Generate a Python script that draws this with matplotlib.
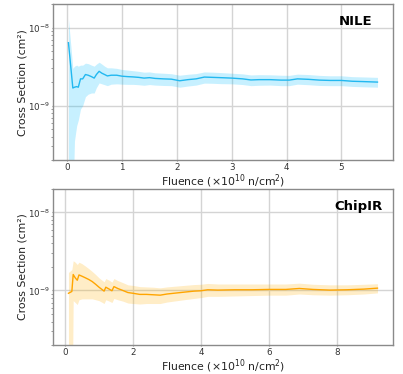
import matplotlib
matplotlib.use("Agg")
import matplotlib.pyplot as plt
import numpy as np

# ---------------- data (values in units of 1e-9 cm^2) ----------------
nile_x = [0.02, 0.10, 0.13, 0.17, 0.20, 0.24, 0.28, 0.33, 0.38, 0.44, 0.49, 0.53,
          0.58, 0.63, 0.68, 0.73, 0.80, 0.90, 1.00, 1.10, 1.20, 1.30, 1.40, 1.50,
          1.60, 1.75, 1.90, 2.05, 2.20, 2.35, 2.50, 2.65, 2.80, 3.00, 3.20, 3.35,
          3.50, 3.70, 3.90, 4.05, 4.20, 4.40, 4.60, 4.80, 5.00, 5.20, 5.40, 5.66]
nile_val = [6.4, 1.68, 1.72, 1.75, 1.72, 2.2, 2.2, 2.5, 2.45, 2.35, 2.25, 2.5,
            2.75, 2.6, 2.5, 2.4, 2.45, 2.45, 2.38, 2.35, 2.33, 2.3, 2.25, 2.28,
            2.23, 2.2, 2.18, 2.08, 2.15, 2.2, 2.32, 2.3, 2.28, 2.25, 2.2, 2.13,
            2.15, 2.15, 2.12, 2.12, 2.2, 2.17, 2.12, 2.1, 2.1, 2.05, 2.03, 2.0]
nile_up = [13.0, 3.0, 3.2, 3.3, 3.2, 3.3, 3.3, 3.5, 3.45, 3.3, 3.2, 3.4,
           3.6, 3.4, 3.2, 3.05, 3.05, 3.0, 2.9, 2.85, 2.8, 2.75, 2.68, 2.7,
           2.63, 2.6, 2.56, 2.45, 2.52, 2.57, 2.7, 2.68, 2.65, 2.6, 2.55, 2.47,
           2.49, 2.48, 2.45, 2.44, 2.53, 2.5, 2.44, 2.41, 2.41, 2.35, 2.33, 2.3]
nile_lo = [0.01, 0.05, 0.35, 0.55, 0.65, 0.9, 1.0, 1.3, 1.4, 1.45, 1.45, 1.7,
           1.95, 1.9, 1.85, 1.8, 1.88, 1.9, 1.88, 1.87, 1.87, 1.85, 1.82, 1.86,
           1.83, 1.81, 1.8, 1.72, 1.78, 1.83, 1.94, 1.93, 1.91, 1.9, 1.86, 1.8,
           1.82, 1.83, 1.8, 1.8, 1.88, 1.85, 1.81, 1.8, 1.8, 1.76, 1.74, 1.72]

chip_x = [0.10, 0.20, 0.24, 0.30, 0.36, 0.41, 0.50, 0.60, 0.70, 0.80, 0.90, 1.00,
          1.10, 1.15, 1.20, 1.30, 1.38, 1.44, 1.55, 1.70, 1.85, 2.00, 2.20, 2.40,
          2.60, 2.80, 3.00, 3.20, 3.40, 3.60, 3.80, 4.00, 4.20, 4.50, 5.00, 5.50,
          6.00, 6.50, 6.90, 7.30, 7.80, 8.30, 8.80, 9.20]
chip_val = [0.92, 0.97, 1.60, 1.45, 1.35, 1.58, 1.52, 1.45, 1.38, 1.30, 1.20, 1.10,
            1.02, 0.98, 1.10, 1.04, 0.99, 1.12, 1.06, 1.00, 0.94, 0.92, 0.89, 0.89,
            0.88, 0.87, 0.90, 0.92, 0.94, 0.96, 0.98, 0.99, 1.02, 1.01, 1.02, 1.02,
            1.03, 1.03, 1.06, 1.03, 1.01, 1.02, 1.04, 1.07]
chip_up = [1.7, 1.85, 2.4, 2.3, 2.15, 2.3, 2.2, 2.05, 1.9, 1.75, 1.6, 1.45,
           1.34, 1.29, 1.42, 1.35, 1.28, 1.42, 1.34, 1.26, 1.18, 1.16, 1.12, 1.11,
           1.10, 1.08, 1.11, 1.13, 1.15, 1.17, 1.19, 1.20, 1.23, 1.21, 1.21, 1.21,
           1.21, 1.21, 1.24, 1.20, 1.18, 1.18, 1.20, 1.22]
chip_lo = [0.01, 0.01, 0.74, 0.70, 0.66, 0.76, 0.78, 0.78, 0.78, 0.78, 0.76, 0.74,
           0.70, 0.68, 0.76, 0.73, 0.70, 0.79, 0.76, 0.73, 0.69, 0.68, 0.67, 0.68,
           0.68, 0.68, 0.71, 0.73, 0.75, 0.77, 0.79, 0.81, 0.84, 0.84, 0.85, 0.86,
           0.87, 0.87, 0.90, 0.88, 0.87, 0.88, 0.90, 0.93]

panels = [
    dict(name="NILE", x=nile_x, val=nile_val, up=nile_up, lo=nile_lo,
         line="#22b8f0", fill="#00bfff", xticks=[0, 1, 2, 3, 4, 5],
         rect=[0.1315, 0.572, 0.8435, 0.417], tx=0.94),
    dict(name="ChipIR", x=chip_x, val=chip_val, up=chip_up, lo=chip_lo,
         line="#ffa500", fill="#ffb000", xticks=[0, 2, 4, 6, 8],
         rect=[0.1315, 0.0775, 0.8435, 0.4175], tx=0.97),
]

SCALE = 1e-9

fig = plt.figure(figsize=(4.03, 3.74), dpi=100)
for p in panels:
    ax = fig.add_axes(p["rect"])
    x = np.array(p["x"])
    v = np.array(p["val"]) * SCALE
    up = np.array(p["up"]) * SCALE
    lo = np.array(p["lo"]) * SCALE
    ax.fill_between(x, lo, up, color=p["fill"], alpha=0.22, linewidth=0, zorder=2)
    ax.plot(x, v, color=p["line"], linewidth=1.0, zorder=3)
    ax.set_yscale("log")
    ax.set_ylim(2e-10, 2e-8)
    ax.set_yticks([1e-9, 1e-8])
    ax.set_xticks(p["xticks"])
    ax.grid(True, which="major", color="#d4d4d4", linewidth=1.0, zorder=0)
    ax.set_axisbelow(True)
    for s in ax.spines.values():
        s.set_color("#8a8a8a")
        s.set_linewidth(1.0)
    ax.tick_params(axis="both", which="major", labelsize=6.3, length=1.0,
                   color="#8a8a8a", labelcolor="#333333", pad=1.0)
    ax.tick_params(axis="y", which="minor", length=1.5, color="#8a8a8a")
    ax.set_ylabel("Cross Section (cm²)", fontsize=7.8, color="#222222", labelpad=0.5)
    ax.set_xlabel(r"Fluence ($\times10^{10}$ n/cm$^2$)", fontsize=7.8,
                  color="#222222", labelpad=0.3)
    ax.text(p["tx"], 0.89, p["name"], transform=ax.transAxes, ha="right",
            va="center", fontsize=9.5, fontweight="bold", color="black")

fig.savefig("out.png", dpi=100)
